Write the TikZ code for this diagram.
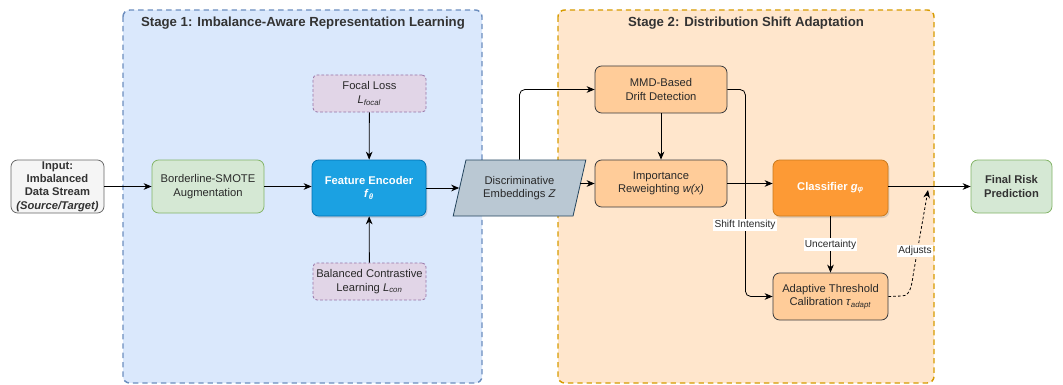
\documentclass[tikz,border=0pt]{standalone}
\usepackage{fontspec}
\setmainfont{Liberation Sans}
\usetikzlibrary{arrows.meta,shapes.geometric,shadows}
\definecolor{sOneFill}{HTML}{DAE8FC}
\definecolor{sOneLine}{HTML}{6C8EBF}
\definecolor{sTwoFill}{HTML}{FFE6CC}
\definecolor{sTwoLine}{HTML}{D79B00}
\definecolor{grayFill}{HTML}{F5F5F5}
\definecolor{grayLine}{HTML}{666666}
\definecolor{txt}{HTML}{333333}
\definecolor{grnFill}{HTML}{D5E8D4}
\definecolor{grnLine}{HTML}{82B366}
\definecolor{encFill}{HTML}{1BA1E2}
\definecolor{encLine}{HTML}{006EAF}
\definecolor{purFill}{HTML}{E1D5E7}
\definecolor{purLine}{HTML}{9673A6}
\definecolor{embFill}{HTML}{BAC8D3}
\definecolor{embLine}{HTML}{23445D}
\definecolor{orFill}{HTML}{FFCC99}
\definecolor{orLine}{HTML}{36393D}
\definecolor{clsFill}{HTML}{FD9A35}
\definecolor{clsLine}{HTML}{C97A1E}
\tikzset{
  base/.style={rounded corners=5pt, align=center, text=txt!80!black, font=\fontsize{8.4}{10}\selectfont, line width=0.6pt, inner sep=1pt},
  graybox/.style={base, draw=grayLine, fill=grayFill, text=txt, font=\fontsize{8.4}{10}\selectfont\bfseries},
  greenbox/.style={base, draw=grnLine, fill=grnFill},
  greenbold/.style={greenbox, text=txt, font=\fontsize{8.4}{10}\selectfont\bfseries},
  encbox/.style={base, draw=encLine, fill=encFill, text=white, font=\fontsize{8.4}{10}\selectfont\bfseries, drop shadow={opacity=0.25, shadow xshift=1pt, shadow yshift=-1.5pt}},
  lossbox/.style={base, draw=purLine, fill=purFill, dashed, dash pattern=on 2pt off 1.5pt, rounded corners=3pt},
  orbox/.style={base, draw=orLine, fill=orFill},
  clsbox/.style={base, draw=clsLine, fill=clsFill, text=white, font=\fontsize{8.4}{10}\selectfont\bfseries, drop shadow={opacity=0.25, shadow xshift=1pt, shadow yshift=-1.5pt}},
  stage/.style={rounded corners=5pt, line width=1.1pt, dash pattern=on 4pt off 3pt},
  title/.style={text=txt, font=\fontsize{9.9}{12}\selectfont\bfseries},
  arr/.style={-{Stealth[length=6pt,width=5pt]}, line width=0.6pt},
  lbl/.style={fill=white, inner sep=1pt, text=txt!80!black, font=\fontsize{7.6}{9}\selectfont},
}
\begin{document}
\begin{tikzpicture}[x=0.75pt,y=-0.75pt]
\useasboundingbox (0,0) rectangle (1063,385);
% stages
\draw[stage, draw=sOneLine, fill=sOneFill] (123,10) rectangle (482,383);
\draw[stage, draw=sTwoLine, fill=sTwoFill] (558,10) rectangle (934,383);
\node[title] (t1) at (303,23) {Stage 1: Imbalance-Aware Representation Learning};
\node[title] (t2) at (746,23) {Stage 2: Distribution Shift Adaptation};
% nodes
\node[graybox, minimum width=69.75pt, minimum height=39.75pt] (inp) at (57.5,186.5) {Input:\\Imbalanced\\Data Stream\\\textit{(Source/Target)}};
\node[greenbox, minimum width=84pt, minimum height=39.75pt] (smote) at (208,186.5) {Borderline-SMOTE\\Augmentation};
\node[encbox, minimum width=85.5pt, minimum height=42pt] (enc) at (369,188) {Feature Encoder\\\textit{f}\textsubscript{\textit{θ}}};
\node[lossbox, minimum width=84.75pt, minimum height=27.75pt] (focal) at (369.5,93.5) {Focal Loss\\\textit{L}\textsubscript{\textit{focal}}};
\node[lossbox, minimum width=84.75pt, minimum height=27.75pt] (con) at (369.5,281.5) {Balanced Contrastive\\Learning \textit{L}\textsubscript{\textit{con}}};
\node[base, rounded corners=0pt, trapezium, trapezium left angle=70, trapezium right angle=110, trapezium stretches=true, draw=embLine, fill=embFill, minimum width=99.75pt, minimum height=42pt, inner sep=0pt] (emb) at (519.5,188) {Discriminative\\Embeddings \textit{Z}};
\node[orbox, minimum width=99pt, minimum height=35.25pt] (mmd) at (661,89.5) {MMD-Based\\Drift Detection};
\node[orbox, minimum width=99pt, minimum height=35.25pt] (imp) at (661,183.5) {Importance\\Reweighting \textit{w(x)}};
\node[clsbox, minimum width=86.25pt, minimum height=42pt] (cls) at (830.5,188) {Classifier \textit{g}\textsubscript{\textit{φ}}};
\node[orbox, minimum width=86.25pt, minimum height=35.25pt] (ada) at (830.5,296.5) {Adaptive Threshold\\Calibration \textit{τ}\textsubscript{\textit{adapt}}};
\node[greenbold, minimum width=60.75pt, minimum height=39.75pt] (fin) at (1011.5,186.5) {Final Risk\\Prediction};
% connectors
\draw[arr] (inp) -- (smote);
\draw[arr] (smote) -- (smote -| enc.west);
\draw[arr] (focal) -- (enc);
\draw[arr] (con) -- (enc);
\draw[arr] (enc.east) -- (emb.west |- enc.east);
\draw[arr, rounded corners=4pt] (emb.north) |- (mmd.west);
\draw[arr] (imp.west -| emb.east) -- (imp.west);
\draw[arr] (mmd) -- (imp);
\draw[arr, rounded corners=4pt] (mmd.east) -- ++(18,0) |- (ada.west);
\node[lbl] (shift) at (745,225) {Shift Intensity};
\draw[arr] (imp.east) -- (cls.west |- imp.east);
\draw[arr] (cls) -- node[lbl] (unc) {Uncertainty} (ada);
\draw[arr] (cls.east |- fin.west) -- (fin.west);
\coordinate (adjTip) at (928,190);
\draw[arr, dash pattern=on 2pt off 1.6pt] (ada.east) -- (902,296) .. controls (912,296) and (912,280) .. (914,270) -- (adjTip);
\node[lbl] (adj) at (915,251) {Adjusts};
\end{tikzpicture}
\end{document}
